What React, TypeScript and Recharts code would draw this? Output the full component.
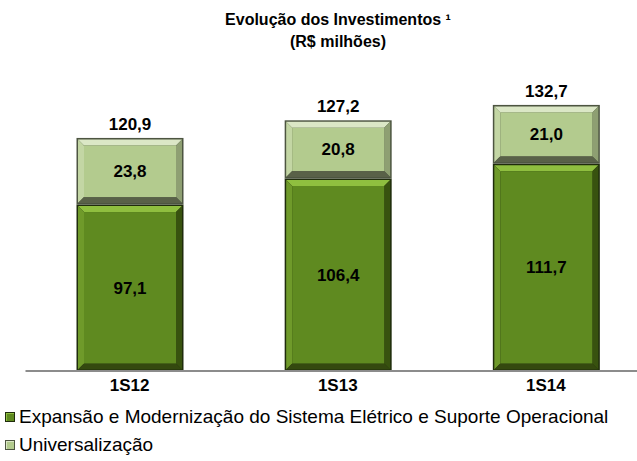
import { BarChart, Bar, XAxis, YAxis, LabelList } from 'recharts';

const periods = ['1S12', '1S13', '1S14'];
const expansao = [97.1, 106.4, 111.7];
const universalizacao = [23.8, 20.8, 21.0];
const totals = [120.9, 127.2, 132.7];
const seriesNames = [
  'Expansão e Modernização do Sistema Elétrico e Suporte Operacional',
  'Universalização',
];

const chartData = periods.map((p, i) => ({
  period: p,
  expansao: expansao[i],
  universalizacao: universalizacao[i],
  total: totals[i],
}));

// bevel colours per series: edge, highlight, left, right, bottom, face
const darkGreen = { edge: '#1f2c0c', hi: '#8fbf3f', left: '#6f9a2a', right: '#38520f', bottom: '#34490f', face: '#5f8a20' };
const lightGreen = { edge: '#4d5541', hi: '#dbe7c6', left: '#c3d6a4', right: '#8e9f72', bottom: '#596148', face: '#b3cb8e' };

const fmt = (v: any) => Number(v).toFixed(1).replace('.', ',');

function BevelBar(props: any) {
  const { x, y, width, height, colors } = props;
  if (!height || height <= 0) return null;
  const b = 6;
  const x1 = x + 1.5;
  const y1 = y + 1.5;
  const w = width - 3;
  const h = height - 3;
  const pts = (a: number[][]) => a.map((p) => p.join(',')).join(' ');
  return (
    <g>
      <rect x={x} y={y} width={width} height={height} fill={colors.edge} />
      <polygon points={pts([[x1, y1], [x1 + w, y1], [x1 + w - b, y1 + b], [x1 + b, y1 + b]])} fill={colors.hi} />
      <polygon points={pts([[x1, y1], [x1 + b, y1 + b], [x1 + b, y1 + h - b], [x1, y1 + h]])} fill={colors.left} />
      <polygon points={pts([[x1 + w, y1], [x1 + w, y1 + h], [x1 + w - b, y1 + h - b], [x1 + w - b, y1 + b]])} fill={colors.right} />
      <polygon points={pts([[x1, y1 + h], [x1 + w, y1 + h], [x1 + w - b, y1 + h - b], [x1 + b, y1 + h - b]])} fill={colors.bottom} />
      <rect x={x1 + b} y={y1 + b} width={Math.max(0, w - 2 * b)} height={Math.max(0, h - 2 * b)} fill={colors.face} />
    </g>
  );
}

const labelStyle = { fontSize: 17, fontWeight: 'bold', fill: '#000' };

export default function App() {
  return (
    <div
      style={{
        position: 'absolute',
        left: 0,
        top: 0,
        width: 637,
        height: 461,
        overflow: 'hidden',
        background: '#fff',
        fontFamily: '"Liberation Sans", Arial, sans-serif',
      }}
    >
      <div
        style={{
          position: 'absolute',
          left: 138,
          top: 9,
          width: 400,
          textAlign: 'center',
          fontWeight: 'bold',
          fontSize: 16,
          lineHeight: '22px',
          color: '#000',
        }}
      >
        Evolução dos Investimentos ¹
        <br />
        (R$ milhões)
      </div>

      <BarChart
        width={650}
        height={400}
        data={chartData}
        margin={{ top: 0, right: 0, left: 25.5, bottom: 0 }}
        barSize={107}
      >
        <XAxis
          dataKey="period"
          axisLine={{ stroke: '#8c8c8c', strokeWidth: 2 }}
          tickLine={false}
          height={29}
          tickMargin={2}
          tick={{ fontSize: 17, fontWeight: 'bold', fill: '#000' }}
        />
        <YAxis hide domain={[37.6, 170.2]} allowDataOverflow />
        <Bar dataKey="expansao" stackId="a" isAnimationActive={false} shape={(p: any) => <BevelBar {...p} colors={darkGreen} />}>
          <LabelList dataKey="expansao" position="center" formatter={fmt} style={labelStyle} />
        </Bar>
        <Bar dataKey="universalizacao" stackId="a" isAnimationActive={false} shape={(p: any) => <BevelBar {...p} colors={lightGreen} />}>
          <LabelList dataKey="universalizacao" position="center" formatter={fmt} style={labelStyle} />
          <LabelList dataKey="total" position="top" offset={8} formatter={fmt} style={labelStyle} />
        </Bar>
      </BarChart>

      <div style={{ position: 'absolute', left: 5, top: 403, fontSize: 19, color: '#000' }}>
        {seriesNames.map((name, i) => {
          const c = i === 0 ? darkGreen : lightGreen;
          return (
            <div key={name} style={{ display: 'flex', alignItems: 'center', height: 28, whiteSpace: 'nowrap' }}>
              <span
                style={{
                  display: 'inline-block',
                  width: 8,
                  height: 8,
                  background: c.face,
                  border: `1px solid ${c.edge}`,
                  boxShadow: `inset 1px 1px 0 ${c.hi}`,
                  marginRight: 4,
                }}
              />
              {name}
            </div>
          );
        })}
      </div>
    </div>
  );
}
